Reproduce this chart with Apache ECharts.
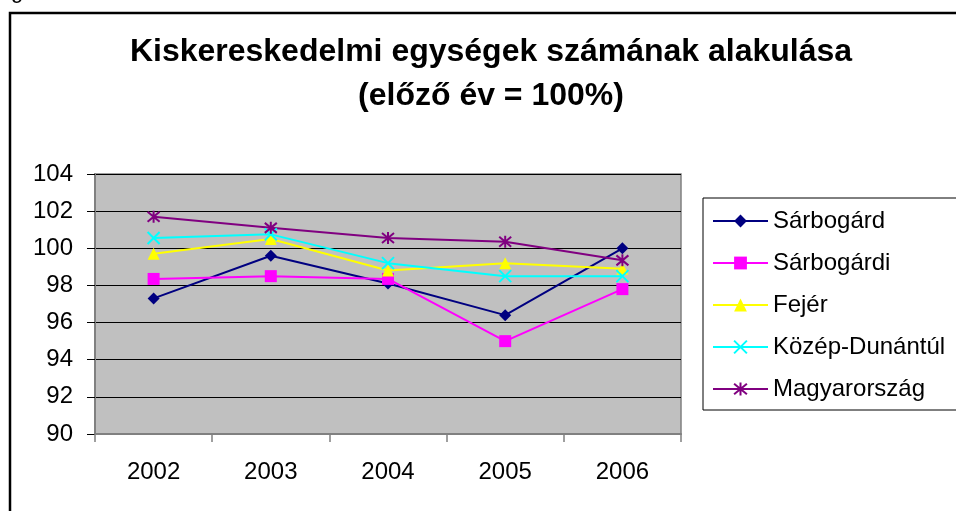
<!DOCTYPE html>
<html>
<head>
<meta charset="utf-8">
<script src="https://cdn.jsdelivr.net/npm/echarts/dist/echarts.min.js"></script>
<style>
  html, body { margin: 0; padding: 0; background: #fff; }
  #main { width: 956px; height: 511px; }
</style>
</head>
<body>
<div id="main"></div>
<script>
// adatok
const years = ['2002', '2003', '2004', '2005', '2006'];
const yTicks = [90, 92, 94, 96, 98, 100, 102, 104];
const sarbogard = [97.3, 99.6, 98.1, 96.4, 100.0];
const sarbogardi = [98.35, 98.5, 98.35, 95.0, 97.8];
const fejer = [99.7, 100.5, 98.8, 99.2, 98.9];
const kozepDunantul = [100.55, 100.75, 99.2, 98.5, 98.5];
const magyarorszag = [101.7, 101.1, 100.55, 100.35, 99.35];

const font = '"Liberation Sans", Arial, sans-serif';
// X és csillag jelölő, vonalként rajzolva
const crossPath = 'path://M0,0L10,10M10,0L0,10';
const starPath = 'path://M0,0L10,10M10,0L0,10M5,-1L5,11';

const mkSeries = (name, data, color, symbol, stroke) => ({
  name: name,
  type: 'line',
  data: data,
  symbol: symbol,
  symbolSize: 12,
  lineStyle: { color: color, width: 2 },
  itemStyle: stroke
    ? { color: 'transparent', borderColor: color, borderWidth: 2 }
    : { color: color, borderWidth: 0 },
  emphasis: { disabled: true },
  animation: false
});

const myChart = echarts.init(document.getElementById('main'));
myChart.setOption({
  animation: false,
  textStyle: { fontFamily: font },
  graphic: [
    // külső keret
    {
      type: 'rect',
      shape: { x: 10, y: 13, width: 980, height: 540 },
      style: { fill: 'transparent', stroke: '#000', lineWidth: 2.5 },
      silent: true
    },
    // levágott betű a kép tetején
    {
      type: 'text',
      x: 11, y: -19,
      style: { text: 'g', font: '22px ' + font, fill: '#000' },
      silent: true
    },
    // cím
    {
      type: 'text',
      x: 491, y: 30,
      style: {
        text: 'Kiskereskedelmi egységek számának alakulása\n(előző év = 100%)',
        font: 'bold 32px ' + font,
        fill: '#000',
        align: 'center',
        lineHeight: 44
      },
      silent: true
    }
  ],
  grid: {
    left: 95, top: 174, width: 586, height: 260,
    show: true,
    backgroundColor: '#c0c0c0',
    borderColor: '#808080',
    borderWidth: 1.5
  },
  legend: {
    orient: 'vertical',
    left: 703, top: 198,
    padding: [11, 80, 9, 9],
    itemWidth: 55, itemHeight: 16,
    itemGap: 18,
    borderColor: '#000', borderWidth: 1,
    backgroundColor: '#fff',
    textStyle: { fontSize: 24, color: '#000', fontFamily: font },
    selectedMode: false
  },
  xAxis: {
    type: 'category',
    data: years,
    boundaryGap: true,
    axisLine: { lineStyle: { color: '#808080', width: 2 } },
    axisTick: { show: true, length: 8, lineStyle: { color: '#808080', width: 1.5 } },
    axisLabel: { fontSize: 24, color: '#000', margin: 26, fontFamily: font },
    splitLine: { show: false }
  },
  yAxis: {
    type: 'value',
    min: yTicks[0], max: yTicks[yTicks.length - 1], interval: 2,
    axisLine: { show: true, lineStyle: { color: '#808080', width: 2 } },
    axisTick: { show: true, length: 8, lineStyle: { color: '#000', width: 1 } },
    axisLabel: { fontSize: 24, color: '#000', margin: 22, fontFamily: font },
    splitLine: { show: true, lineStyle: { color: '#000', width: 1 } }
  },
  series: [
    mkSeries('Sárbogárd', sarbogard, '#000080', 'diamond', false),
    mkSeries('Sárbogárdi', sarbogardi, '#ff00ff', 'rect', false),
    mkSeries('Fejér', fejer, '#ffff00', 'triangle', false),
    mkSeries('Közép-Dunántúl', kozepDunantul, '#00ffff', crossPath, true),
    mkSeries('Magyarország', magyarorszag, '#800080', starPath, true)
  ]
});
</script>
</body>
</html>
